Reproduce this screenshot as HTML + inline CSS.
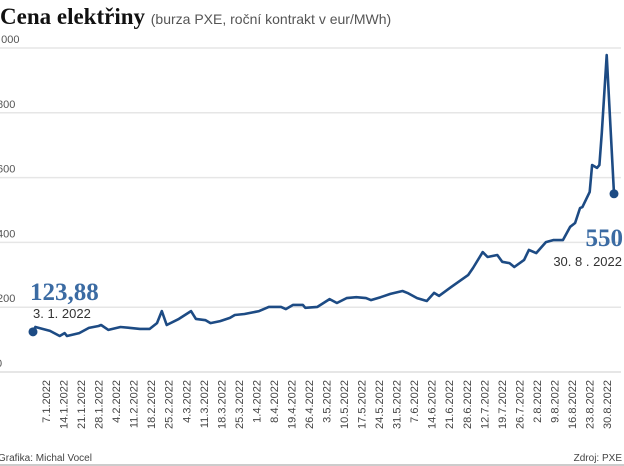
<!DOCTYPE html>
<html><head><meta charset="utf-8"><style>
body{margin:0;background:#fff;}
svg{display:block;font-family:"Liberation Sans",sans-serif;}
</style></head><body>
<svg width="624" height="466" viewBox="0 0 624 466">
<text x="0" y="24" font-family="Liberation Serif,serif" font-weight="bold" font-size="23" fill="#111">Cena elektřiny <tspan font-family="Liberation Sans,sans-serif" font-weight="normal" font-size="14" fill="#555">(burza PXE, roční kontrakt v eur/MWh)</tspan></text>
<g id="grid"></g>
<g id="yticks"></g>
<g id="xticks"></g>
<path id="line" fill="none" stroke="#1d4b84" stroke-width="2.6" stroke-linejoin="round"></path>
<circle id="startDot" r="4.5" fill="#1d4b84"></circle>
<circle id="endDot" r="4.5" fill="#1d4b84"></circle>
<text x="30" y="300" font-family="Liberation Serif,serif" font-weight="bold" font-size="25" fill="#3b6ba3">123,88</text>
<text x="33" y="318" font-size="13" fill="#333">3. 1. 2022</text>
<text x="623" y="246" text-anchor="end" font-family="Liberation Serif,serif" font-weight="bold" font-size="25" fill="#3b6ba3">550</text>
<text x="622" y="266" text-anchor="end" font-size="13" fill="#333">30. 8 . 2022</text>
<text x="-2" y="461" font-size="10" fill="#444">Grafika: Michal Vocel</text>
<text x="622" y="461" text-anchor="end" font-size="10" fill="#444">Zdroj: PXE</text>
<line x1="0" y1="465" x2="624" y2="465" stroke="#999" stroke-width="1"></line>
</svg>
<script>
const days=[0,1,7,11,13,14,19,23,27,28,31,36,40,44,48,51,53,55,60,65,67,71,73,77,81,83,87,93,97,102,104,107,111,112,117,122,125,129,133,137,139,143,147,152,154,158,162,165,167,172,179,181,185,187,191,193,196,198,202,204,207,211,214,218,221,223,225,226,229,230,232,233,234,236,239];
const prices=[124,139,127,111,120,111,120,136,142,145,130,139,136,133,133,151,188,145,164,188,164,160,151,157,167,176,179,188,201,201,194,207,207,198,201,225,213,228,231,228,222,231,241,250,244,228,219,244,235,262,299,321,370,355,361,340,336,324,346,377,367,401,407,407,448,460,506,509,556,639,630,639,738,978,550];
const yTicks=[0,200,400,600,800,1000];
const yTickLabels=["0","200","400","600","800","1 000"];
const xTickLabels=["7.1.2022","14.1.2022","21.1.2022","28.1.2022","4.2.2022","11.2.2022","18.2.2022","25.2.2022","4.3.2022","11.3.2022","18.3.2022","25.3.2022","1.4.2022","8.4.2022","19.4.2022","26.4.2022","3.5.2022","10.5.2022","17.5.2022","24.5.2022","31.5.2022","7.6.2022","14.6.2022","21.6.2022","28.6.2022","12.7.2022","19.7.2022","26.7.2022","2.8.2022","9.8.2022","16.8.2022","23.8.2022","30.8.2022"];
const NS="http://www.w3.org/2000/svg";
const xS=d=>33+d/239*581;
const yS=v=>372-v*0.324;
const grid=document.getElementById('grid'),yt=document.getElementById('yticks'),xt=document.getElementById('xticks');
yTicks.forEach((v,i)=>{
 const l=document.createElementNS(NS,'line');
 
 
 l.setAttribute('x1',0);l.setAttribute('x2',621);l.setAttribute('y1',yS(v));l.setAttribute('y2',yS(v));
 l.setAttribute('stroke',v===0?'#ddd':'#e6e6e6');l.setAttribute('stroke-width',1.5);
 grid.appendChild(l);
 const t=document.createElementNS(NS,'text');
 
 
 t.setAttribute('x',yTickLabels[i].length>3?-8:(yTickLabels[i].length>1?-3:-4));t.setAttribute('y',yS(v)-5);
 t.setAttribute('font-size','11');t.setAttribute('fill','#555');
 t.textContent=yTickLabels[i];yt.appendChild(t);
});
xTickLabels.forEach((s,i)=>{
 const x=46+i*(607-46)/(xTickLabels.length-1);
 const t=document.createElementNS(NS,'text');
 
 
 t.setAttribute('transform','translate('+(x+4)+',380) rotate(-90)');
 t.setAttribute('text-anchor','end');t.setAttribute('font-size','11');t.setAttribute('fill','#444');
 t.textContent=s;xt.appendChild(t);
});
document.getElementById('line').setAttribute('d',days.map((d,i)=>(i?'L':'M')+xS(d).toFixed(1)+','+yS(prices[i]).toFixed(1)).join(''));
const sd=document.getElementById('startDot');sd.setAttribute('cx',xS(days[0]));sd.setAttribute('cy',yS(prices[0]));
const ed=document.getElementById('endDot');ed.setAttribute('cx',xS(days[days.length-1]));ed.setAttribute('cy',yS(prices[prices.length-1]));
</script>
</body></html>
